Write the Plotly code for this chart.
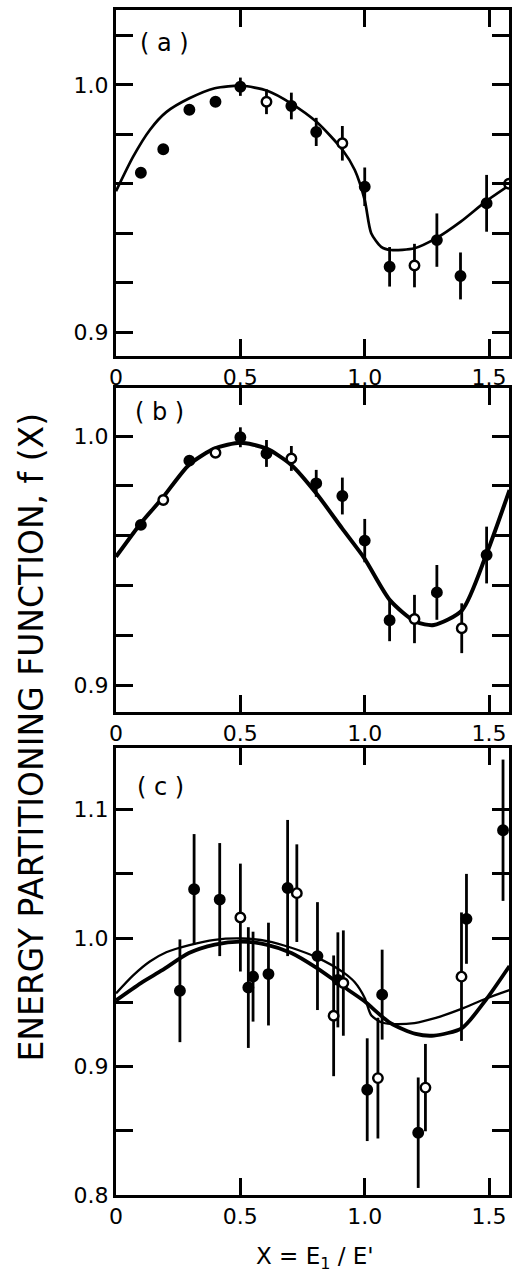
import plotly.graph_objects as go

# ---------------- data ----------------
# panel (a) measured points
x_ab = [0.10, 0.19, 0.295, 0.40, 0.50, 0.605, 0.705, 0.805, 0.91, 1.00, 1.10, 1.20, 1.29, 1.385, 1.49, 1.58]
f_a = [0.9645, 0.974, 0.990, 0.9932, 0.9993, 0.9932, 0.9915, 0.981, 0.9764, 0.9588, 0.9264, 0.9269, 0.9372, 0.9227, 0.9521, 0.960]
e_a = [0.002, 0.002, 0.002, 0.002, 0.0037, 0.005, 0.0054, 0.0057, 0.007, 0.0078, 0.008, 0.0088, 0.0108, 0.0095, 0.0115, 0.0]
kind_a = ["filled", "filled", "filled", "filled", "filled", "open", "filled", "filled", "open", "filled",
          "filled", "open", "filled", "filled", "filled", "open"]

# panel (b) measured points
x_b = [0.10, 0.19, 0.295, 0.40, 0.50, 0.605, 0.705, 0.805, 0.91, 1.00, 1.10, 1.20, 1.29, 1.39, 1.49]
f_b = [0.9643, 0.9743, 0.9901, 0.9933, 0.9995, 0.993, 0.991, 0.981, 0.9759, 0.958, 0.926, 0.9265, 0.9372, 0.9228, 0.9522]
e_b = [0.002, 0.002, 0.002, 0.002, 0.004, 0.0054, 0.005, 0.0054, 0.0074, 0.0087, 0.0084, 0.0097, 0.011, 0.010, 0.0114]
kind_b = ["filled", "open", "filled", "open", "filled", "filled", "open", "filled", "filled", "filled",
          "filled", "open", "filled", "open", "filled"]

# fitted curves
curve_a_x = [0.0, 0.069, 0.136, 0.202, 0.295, 0.397, 0.505, 0.608, 0.705, 0.807, 0.911, 0.96, 1.0,
             1.026, 1.066, 1.106, 1.2, 1.286, 1.386, 1.486, 1.582]
curve_a_y = [0.957, 0.971, 0.9818, 0.989, 0.9946, 0.9987, 0.9997, 0.9977, 0.9925, 0.985, 0.9737, 0.9656,
             0.9534, 0.940, 0.9345, 0.9332, 0.9339, 0.9379, 0.9447, 0.9528, 0.9595]
curve_b_x = [0.0, 0.10, 0.186, 0.293, 0.397, 0.50, 0.604, 0.705, 0.805, 0.909, 0.998, 1.102, 1.205,
             1.278, 1.391, 1.488, 1.582]
curve_b_y = [0.9515, 0.965, 0.975, 0.9884, 0.995, 0.9973, 0.995, 0.9884, 0.977, 0.9629, 0.951, 0.934,
             0.9254, 0.9241, 0.930, 0.9522, 0.9783]

# panel (c) points
x_c = [0.257, 0.314, 0.417, 0.50, 0.532, 0.551, 0.613, 0.69, 0.727, 0.81, 0.875, 0.892, 0.914,
       1.010, 1.053, 1.07, 1.215, 1.244, 1.389, 1.409, 1.556]
f_c = [0.959, 1.038, 1.030, 1.016, 0.9615, 0.970, 0.972, 1.039, 1.035, 0.986, 0.9395, 0.9675, 0.965,
       0.882, 0.891, 0.956, 0.8485, 0.8836, 0.970, 1.015, 1.084]
e_c = [0.040, 0.043, 0.044, 0.042, 0.047, 0.035, 0.040, 0.053, 0.038, 0.042, 0.047, 0.037, 0.041,
       0.040, 0.047, 0.035, 0.043, 0.034, 0.050, 0.035, 0.055]
kind_c = ["filled", "filled", "filled", "open", "filled", "filled", "filled", "filled", "open", "filled",
          "open", "filled", "open", "filled", "open", "filled", "filled", "open", "open", "filled", "filled"]

x_tickvals = [0, 0.5, 1.0, 1.5]
x_ticktext = ["0", "0.5", "1.0", "1.5"]
y_ab_tickvals = [0.90, 1.00]
y_ab_ticktext = ["0.9", "1.0"]
y_ab_minor = [0.92, 0.94, 0.96, 0.98, 1.02]
y_c_tickvals = [0.80, 0.90, 1.00, 1.10]
y_c_ticktext = ["0.8", "0.9", "1.0", "1.1"]
y_c_minor = [0.85, 0.95, 1.05]

panel_labels = ["( a )", "( b )", "( c )"]
x_title = "X = E<sub>1</sub> / E'"
y_title = "ENERGY PARTITIONING FUNCTION, f (X)"

# ---------------- figure ----------------
FONT = "DejaVu Sans, Liberation Sans, sans-serif"
fig = go.Figure()


def add_points(x, y, e, kind, xa, ya):
    for k in ("filled", "open"):
        xs = [xi for xi, ki in zip(x, kind) if ki == k]
        ys = [yi for yi, ki in zip(y, kind) if ki == k]
        es = [ei for ei, ki in zip(e, kind) if ki == k]
        fig.add_trace(go.Scatter(
            x=xs, y=ys, mode="markers", xaxis=xa, yaxis=ya, showlegend=False,
            error_y=dict(type="data", array=es, visible=True, color="black", thickness=2.8, width=0),
            marker=dict(size=9.5, color="black" if k == "filled" else "white",
                        line=dict(color="black", width=2.4)),
        ))


def add_curve(x, y, xa, ya, w):
    fig.add_trace(go.Scatter(x=x, y=y, mode="lines", xaxis=xa, yaxis=ya, showlegend=False,
                             line=dict(color="black", width=w, shape="spline", smoothing=0.7)))


# (a)
add_curve(curve_a_x, curve_a_y, "x", "y", 2.7)
add_points(x_ab, f_a, e_a, kind_a, "x", "y")
# (b)
add_curve(curve_b_x, curve_b_y, "x2", "y2", 4.0)
add_points(x_b, f_b, e_b, kind_b, "x2", "y2")
# (c)
add_curve(curve_a_x, curve_a_y, "x3", "y3", 2.3)
add_curve(curve_b_x, curve_b_y, "x3", "y3", 3.8)
add_points(x_c, f_c, e_c, kind_c, "x3", "y3")

axis_common = dict(showline=True, linewidth=3, linecolor="black", mirror="ticks", ticks="inside",
                   ticklen=17, tickwidth=3, tickcolor="black", showgrid=False, zeroline=False,
                   tickfont=dict(family=FONT, size=22, color="black"))


def minor(vals):
    return dict(tickvals=vals, ticks="inside", ticklen=17, tickwidth=3, tickcolor="black", showgrid=False)


x_rng = [0, 1.58]
fig.update_layout(
    width=514, height=1281,
    margin=dict(l=116, r=2, t=10, b=86),
    paper_bgcolor="white", plot_bgcolor="white",
    xaxis=dict(domain=[0, 1], range=x_rng, anchor="y", tickvals=x_tickvals, ticktext=x_ticktext, **axis_common),
    yaxis=dict(domain=[0.7080, 1.0], range=[0.89028, 1.03036], anchor="x",
               tickvals=y_ab_tickvals, ticktext=y_ab_ticktext, minor=minor(y_ab_minor), **axis_common),
    xaxis2=dict(domain=[0, 1], range=x_rng, anchor="y2", tickvals=x_tickvals, ticktext=x_ticktext, **axis_common),
    yaxis2=dict(domain=[0.4076, 0.6810], range=[0.88916, 1.01928], anchor="x2",
                tickvals=y_ab_tickvals, ticktext=y_ab_ticktext, minor=minor(y_ab_minor), **axis_common),
    xaxis3=dict(domain=[0, 1], range=x_rng, anchor="y3", tickvals=x_tickvals, ticktext=x_ticktext, **axis_common),
    yaxis3=dict(domain=[0, 0.3772], range=[0.80, 1.148], anchor="x3",
                tickvals=y_c_tickvals, ticktext=y_c_ticktext, minor=minor(y_c_minor), **axis_common),
)

label_pos = [(0.1237, 0.9722), (0.111, 0.6608), (0.1136, 0.3443)]
for txt, (px, py) in zip(panel_labels, label_pos):
    fig.add_annotation(text=txt, x=px, y=py, xref="paper", yref="paper", showarrow=False,
                       xanchor="center", yanchor="middle",
                       font=dict(family=FONT, size=24, color="black"))

fig.add_annotation(text=x_title, x=0.5076, y=-0.0532, xref="paper", yref="paper", showarrow=False,
                   xanchor="center", yanchor="middle", font=dict(family=FONT, size=23, color="black"))
fig.add_annotation(text=y_title, x=-0.215, y=0.3865, xref="paper", yref="paper", showarrow=False,
                   textangle=-90, xanchor="center", yanchor="middle",
                   font=dict(family=FONT, size=33, color="black"))

fig.write_html("out.html")
